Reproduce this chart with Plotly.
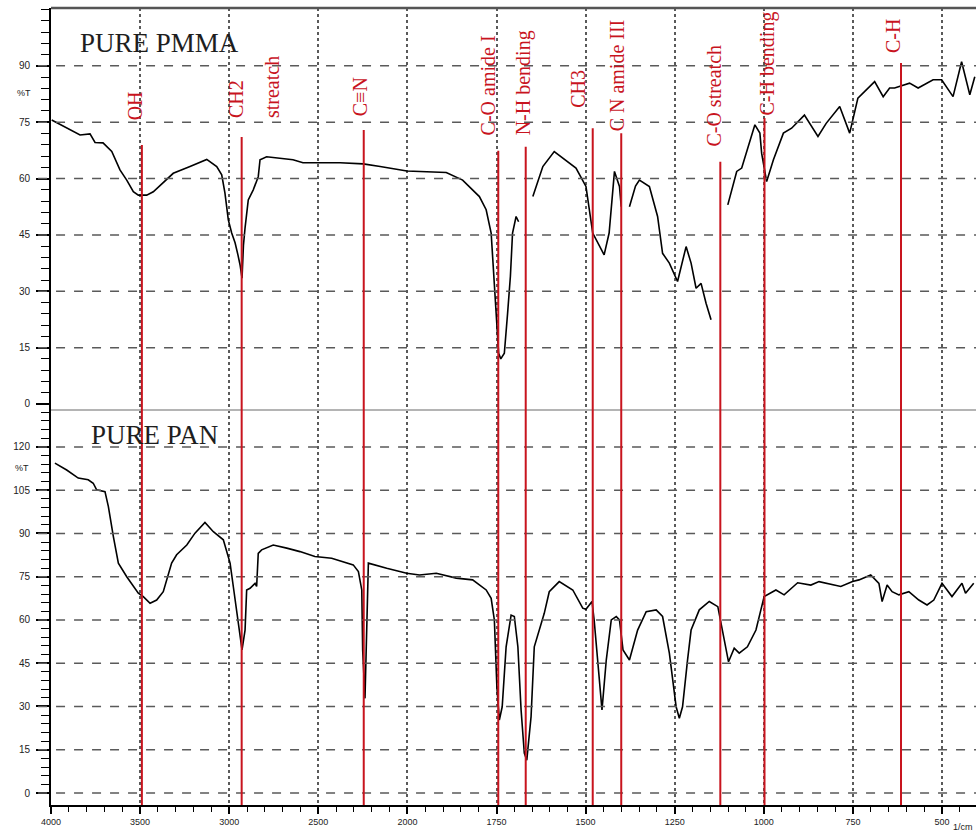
import plotly.graph_objects as go

# ---------------- data ----------------
# PURE PMMA spectrum (wavenumber 1/cm, %T); None = break in the trace
pmma_wn = [3996, 3877, 3837, 3781, 3753, 3708, 3659, 3613, 3575, 3538, 3510, 3484, 3463, 3426,
           3314, 3220, 3126, 3070, 3042, 3024, 3005, 2986, 2967, 2951, 2939, 2928, 2920, 2911,
           2893, 2865, 2837, 2827, 2790, 2642, 2586, 2378, 2248, 2153, 2003, 1891, 1845, 1798,
           1779, 1765, 1756, 1749, 1744, 1738, 1728, 1719, 1711, 1705, 1695, 1688, None,
           1648, 1620, 1588, 1527, 1499, 1480, 1448, 1434, 1419, 1410, 1405, 1400, None,
           1377, 1360, 1349, 1321, 1298, 1284, 1265, 1256, 1242, 1218, 1204, 1190, 1176, 1162,
           1148, None, 1101, 1076, 1062, 1044, 1025, 1011, 1006, 992, 973, 945, 922, 886, 848,
           825, 787, 759, 736, 689, 665, 647, 633, 591, 567, 525, 501, 469, 445, 422, 408]
pmma_t = [75.6, 72.5, 71.6, 71.9, 69.6, 69.5, 67.2, 62.3, 59.6, 56.5, 55.6, 55.6, 55.6, 56.5,
          61.4, 63.2, 65.1, 63.2, 61.0, 56.2, 49.0, 45.5, 42.9, 39.7, 37.0, 33.5, 42.3, 46.9,
          54.3, 57.0, 60.5, 65.0, 65.8, 65.0, 64.2, 64.2, 63.9, 63.2, 62.0, 61.6, 59.6, 55.2,
          51.7, 45.5, 31.2, 21.0, 13.5, 12.0, 13.5, 24.0, 34.0, 45.5, 49.9, 48.5, None,
          55.2, 63.2, 67.2, 62.8, 57.9, 45.5, 39.7, 45.5, 61.9, 59.6, 57.9, 52.5, None,
          52.5, 58.0, 59.6, 57.9, 49.9, 40.1, 37.5, 35.7, 32.6, 41.9, 37.5, 30.8, 32.1, 26.8,
          22.4, None, 53.0, 61.9, 62.8, 68.5, 74.3, 72.1, 66.7, 59.2, 65.0, 72.1, 73.4, 76.9, 71.2,
          74.7, 79.2, 72.1, 81.4, 85.8, 81.8, 84.1, 84.1, 85.4, 84.1, 86.3, 86.3, 81.8, 91.1, 82.3, 87.1]

# PURE PAN spectrum
pan_wn = [3978, 3912, 3847, 3791, 3763, 3744, 3697, 3678, 3650, 3622, 3575, 3538, 3510, 3482,
          3444, 3407, 3370, 3323, 3295, 3238, 3192, 3136, 3089, 3033, 2995, 2977, 2949, 2939,
          2928, 2911, 2902, 2883, 2855, 2846, 2837, 2818, 2753, 2677, 2603, 2519, 2425, 2304,
          2275, 2256, 2251, 2238, 2228, 2219, 2116, 2004, 1966, 1919, 1863, 1817, 1779, 1765,
          1756, 1749, 1742, 1734, 1723, 1709, 1700, 1690, 1681, 1672, 1665, 1653, 1644, 1630,
          1616, 1602, 1574, 1536, 1508, 1499, 1482, 1476, 1466, 1454, 1442, 1428, 1414, 1405,
          1395, 1377, 1354, 1330, 1302, 1284, 1265, 1246, 1237, 1228, 1214, 1204, 1181, 1153,
          1129, 1120, 1111, 1099, 1083, 1069, 1046, 1022, 999, 966, 943, 905, 868, 845, 784,
          751, 733, 700, 677, 668, 654, 640, 621, 593, 565, 542, 523, 500, 472, 444, 434, 411]
pan_t = [114.4, 112.0, 109.2, 108.6, 107.4, 105.1, 104.5, 99.3, 88.9, 79.7, 75.0, 71.6, 69.3, 68.1,
         65.8, 66.9, 69.8, 79.7, 82.6, 86.0, 90.1, 93.8, 90.6, 87.8, 79.7, 71.6, 60.0, 54.2,
         49.6, 56.5, 70.4, 71.0, 72.7, 71.6, 83.1, 84.3, 86.0, 84.9, 83.7, 82.0, 81.4, 79.1,
         76.8, 70.4, 49.6, 32.8, 62.3, 79.7, 77.9, 76.2, 75.6, 76.2, 74.5, 73.9, 70.4, 67.5,
         60.0, 36.9, 25.3, 29.9, 50.7, 61.7, 61.2, 50.7, 28.8, 13.8, 11.4, 26.5, 50.7, 56.5,
         62.3, 69.8, 73.3, 70.4, 64.1, 63.7, 66.4, 60.0, 46.1, 28.8, 46.1, 60.0, 61.2, 60.0,
         49.6, 46.1, 56.5, 62.9, 63.5, 61.2, 48.5, 29.9, 25.9, 29.9, 46.1, 56.5, 63.5, 66.4,
         64.6, 58.9, 53.1, 45.5, 50.2, 48.5, 50.7, 56.5, 68.1, 70.4, 68.7, 72.9, 72.1, 73.3, 71.6,
         73.3, 73.9, 75.6, 72.7, 66.4, 72.1, 69.8, 68.7, 69.8, 66.9, 65.2, 66.9, 72.7, 68.1, 72.7, 69.3, 72.7]

# band assignments (label, wavenumber of marker line)
band_labels = ["OH", "CH2", "C\u2261N", "C-O amide I", "N-H bending", "CH3",
               "C N amide III", "C-O streatch", "C-H bending", "C-H"]
band_wn = [3490, 2930, 2245, 1745, 1668, 1480, 1400, 1122, 998, 615]

x_tick_wn = [4000, 3500, 3000, 2500, 2000, 1750, 1500, 1250, 1000, 750, 500]
x_tick_text = ["4000", "3500", "3000", "2500", "2000", "1750", "1500", "1250", "1000", "750", "500"]
pmma_y_ticks = [0, 15, 30, 45, 60, 75, 90]
pan_y_ticks = [0, 15, 30, 45, 60, 75, 90, 105, 120]


# ------------- helpers (instrument double-scale abscissa) -------------
def to_u(wn):
    if wn is None:
        return None
    return (4000 - wn) / 500 if wn >= 2000 else 4 + (2000 - wn) / 250


RED = "#c8141e"
GRID = "#5a5a5a"
SERIF = "Liberation Serif, Times New Roman, serif"
SANS = "Liberation Sans, Arial, sans-serif"

fig = go.Figure()
fig.add_trace(go.Scatter(x=[to_u(w) for w in pan_wn], y=pan_t, mode="lines",
                         line=dict(color="black", width=1.6), xaxis="x", yaxis="y",
                         showlegend=False, connectgaps=False))
fig.add_trace(go.Scatter(x=[to_u(w) for w in pmma_wn], y=pmma_t, mode="lines",
                         line=dict(color="black", width=1.6), xaxis="x2", yaxis="y2",
                         showlegend=False, connectgaps=False))

split = 395 / 797
x_max = 925 / 89.1

minor_u = []
for w in range(4000, 1999, -100):
    if w % 500:
        minor_u.append(to_u(w))
for w in range(2000, 399, -50):
    if w % 250:
        minor_u.append(to_u(w))
minor_u.append(to_u(400))

tickfont = dict(family=SANS, size=10, color="#222")

fig.update_layout(
    width=976, height=832,
    margin=dict(l=51, r=0, t=8, b=27),
    paper_bgcolor="white", plot_bgcolor="white",
    xaxis=dict(domain=[0, 1], anchor="y", range=[0, x_max],
               tickmode="array", tickvals=[to_u(w) for w in x_tick_wn], ticktext=x_tick_text,
               ticks="outside", ticklen=7, tickwidth=1.5, tickcolor="black",
               showline=True, linecolor="black", linewidth=2,
               showgrid=True, gridcolor=GRID, griddash="dot", gridwidth=1.5,
               zeroline=False, tickfont=dict(family=SANS, size=9, color="#222"),
               minor=dict(tickvals=minor_u, ticks="outside", ticklen=5, tickcolor="black",
                          tickwidth=1.2, showgrid=False)),
    xaxis2=dict(domain=[0, 1], anchor="y2", matches="x", range=[0, x_max],
                tickmode="array", tickvals=[to_u(w) for w in x_tick_wn],
                showticklabels=False, ticks="", showline=False,
                showgrid=True, gridcolor=GRID, griddash="dot", gridwidth=1.5, zeroline=False),
    yaxis=dict(domain=[0, split], anchor="x", range=[-4.16, 132.8],
               tickmode="array", tickvals=pan_y_ticks, ticktext=[str(v) for v in pan_y_ticks],
               ticks="outside", ticklen=13, tickwidth=1.5, tickcolor="black",
               showline=True, linecolor="black", linewidth=2, showgrid=False, zeroline=False,
               tickfont=tickfont, ticklabelstandoff=4,
               minor=dict(tickvals=list(range(0, 133, 3)), ticks="outside", ticklen=8,
                          tickcolor="black", tickwidth=1.2, showgrid=False)),
    yaxis2=dict(domain=[split, 1], anchor="x2", range=[-1.6, 105.4],
                tickmode="array", tickvals=pmma_y_ticks, ticktext=[str(v) for v in pmma_y_ticks],
                ticks="outside", ticklen=13, tickwidth=1.5, tickcolor="black",
                showline=True, linecolor="black", linewidth=2, showgrid=False, zeroline=False,
                tickfont=tickfont, ticklabelstandoff=4,
                minor=dict(tickvals=list(range(0, 106, 3)), ticks="outside", ticklen=8,
                           tickcolor="black", tickwidth=1.2, showgrid=False)),
)

shapes = []
# dashed horizontal grid lines
for v in pan_y_ticks:
    shapes.append(dict(type="line", xref="paper", yref="y", x0=-0.014, x1=1, y0=v, y1=v,
                       line=dict(color=GRID, width=1.5, dash="dash")))
for v in pmma_y_ticks:
    if v == 0:
        continue
    shapes.append(dict(type="line", xref="paper", yref="y2", x0=-0.014, x1=1, y0=v, y1=v,
                       line=dict(color=GRID, width=1.5, dash="dash")))
# frame top + panel separator
shapes.append(dict(type="line", xref="paper", yref="paper", x0=0, x1=1, y0=1, y1=1,
                   line=dict(color="#555", width=2.5)))
shapes.append(dict(type="line", xref="paper", yref="paper", x0=0, x1=1, y0=split, y1=split,
                   line=dict(color="#b4b4b4", width=2)))

# red band-marker lines: top end (paper) and label placement
line_top = [0.828, 0.838, 0.847, 0.821, 0.826, 0.849, 0.843, 0.807, 0.862, 0.931]
label_bottom = [0.857, 0.859, 0.862, 0.838, 0.838, 0.872, 0.843, 0.824, 0.862, 0.941]
label_shift = [-6, -5, -3, -10, -2, -15, -4, -6, 3, -8]

annotations = []
for lab, w, top, lb, sh in zip(band_labels, band_wn, line_top, label_bottom, label_shift):
    u = to_u(w)
    shapes.append(dict(type="line", xref="x", yref="paper", x0=u, x1=u, y0=0, y1=top,
                       line=dict(color=RED, width=2)))
    annotations.append(dict(text=lab, xref="x", yref="paper", x=u, y=lb, xshift=sh,
                            xanchor="center", yanchor="bottom", textangle=-90, showarrow=False,
                            font=dict(family=SERIF, size=20, color=RED)))
# second word of the CH2 label
annotations.append(dict(text="streatch", xref="x", yref="paper", x=to_u(2930), y=0.859, xshift=31,
                        xanchor="center", yanchor="bottom", textangle=-90, showarrow=False,
                        font=dict(family=SERIF, size=20, color=RED)))

# panel titles
annotations.append(dict(text="PURE PMMA", xref="paper", yref="paper", x=0.1168, y=0.9555,
                        xanchor="center", yanchor="middle", showarrow=False,
                        font=dict(family=SERIF, size=27, color="#1e1e1e")))
annotations.append(dict(text="PURE PAN", xref="paper", yref="paper", x=0.1114, y=0.4642,
                        xanchor="center", yanchor="middle", showarrow=False,
                        font=dict(family=SERIF, size=27, color="#1e1e1e")))
# axis captions
annotations.append(dict(text="%T", xref="paper", yref="paper", x=-0.0292, y=0.8934,
                        xanchor="center", yanchor="middle", showarrow=False,
                        font=dict(family=SANS, size=9, color="#222")))
annotations.append(dict(text="%T", xref="paper", yref="paper", x=-0.0314, y=0.4228,
                        xanchor="center", yanchor="middle", showarrow=False,
                        font=dict(family=SANS, size=9, color="#222")))
annotations.append(dict(text="1/cm", xref="paper", yref="paper", x=0.986, y=-0.0276,
                        xanchor="center", yanchor="middle", showarrow=False,
                        font=dict(family=SANS, size=9, color="#222")))

fig.update_layout(shapes=shapes, annotations=annotations)
fig.write_html("out.html", config={"displayModeBar": False},
               post_script="document.body.style.margin='0';document.body.style.overflow='hidden';")
